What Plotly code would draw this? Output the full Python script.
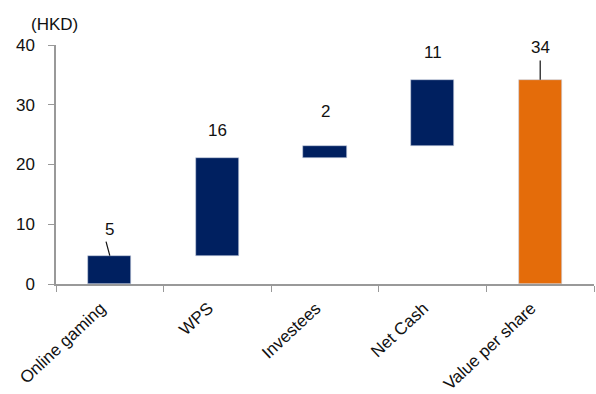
import plotly.graph_objects as go

categories = ["Online gaming", "WPS", "Investees", "Net Cash", "Value per share"]
increments = [4.75, 16.4, 1.9, 11.15]
label_texts = ["5", "16", "2", "11", "34"]
y_ticks = [0, 10, 20, 30, 40]

# build waterfall bases from the increments
bases = []
heights = []
run = 0.0
for v in increments:
    bases.append(run)
    heights.append(v)
    run += v
total = run
bases.append(0.0)
heights.append(total)
tops = [b + h for b, h in zip(bases, heights)]

NAVY = "#002060"
ORANGE = "#E46C0A"
colors = [NAVY] * len(increments) + [ORANGE]
FONT = "Liberation Sans, Arial"

fig = go.Figure()
fig.add_trace(go.Bar(
    x=categories,
    y=heights,
    base=bases,
    marker=dict(color=colors, line=dict(color="#C8D0E0", width=0.6)),
    width=0.4,
    hoverinfo="skip",
))

# label offsets above bar tops (in axis units) as placed in the source chart
label_offsets = [4.4, 4.6, 5.8, 4.5, 5.3]
for i, (t, txt) in enumerate(zip(tops, label_texts)):
    fig.add_annotation(x=i, y=t + label_offsets[i], text=txt, showarrow=False,
                       font=dict(size=17, color="#111111", family=FONT),
                       xanchor="center", yanchor="middle")

# leader lines for first and last labels
fig.add_shape(type="line", xref="x", yref="y",
              x0=0 - 0.035, y0=tops[0] + 2.35, x1=0, y1=tops[0],
              line=dict(color="#111111", width=1.2))
fig.add_shape(type="line", xref="x", yref="y",
              x0=4, y0=tops[4] + 3.2, x1=4, y1=tops[4],
              line=dict(color="#111111", width=1.2))

fig.add_annotation(xref="paper", yref="paper", x=-0.05, y=1.085, text="(HKD)",
                   showarrow=False, xanchor="left", yanchor="middle",
                   font=dict(size=17, color="#111111", family=FONT))

fig.update_layout(
    width=596, height=394,
    margin=dict(l=56, r=2, t=45, b=110, autoexpand=False),
    paper_bgcolor="white", plot_bgcolor="white",
    showlegend=False,
    font=dict(family=FONT, size=17, color="#111111"),
    bargap=0,
)
fig.update_xaxes(
    type="category",
    range=[-0.5, len(categories) - 0.5],
    tickangle=-43,
    tickson="boundaries",
    automargin=False,
    showline=True, linecolor="#999999", linewidth=1.5,
    ticks="outside", ticklen=6, tickcolor="#999999",
    showgrid=False, zeroline=False,
    ticklabelshift=-9, ticklabelstandoff=6,
    tickfont=dict(size=17),
)
fig.update_yaxes(
    range=[0, 40], tickvals=y_ticks,
    automargin=False,
    showline=True, linecolor="#999999", linewidth=1.5,
    ticks="outside", ticklen=6, tickcolor="#999999",
    showgrid=False, zeroline=False,
    ticklabelstandoff=10,
    tickfont=dict(size=17),
)

fig.write_html("out.html")
